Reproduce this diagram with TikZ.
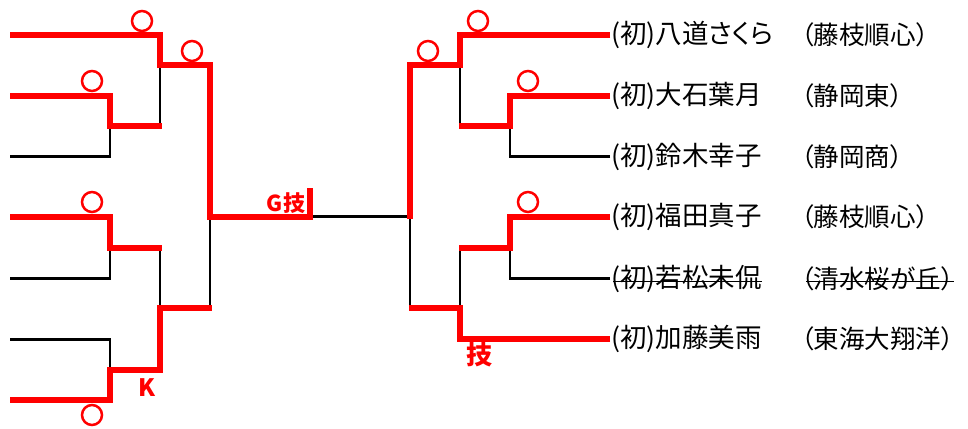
\documentclass[tikz,border=0pt]{standalone}
\usepackage{fontspec}
\newfontfamily\jp[RawFeature=+palt]{Noto Sans CJK JP}
\begin{document}
\begin{tikzpicture}[x=1pt,y=-1pt,
  win/.style={draw=red,line width=6pt,line join=miter},
  lose/.style={draw=black,line width=2.7pt},
  maru/.style={draw=red,line width=2.5pt},
  entrant/.style={anchor=west,inner sep=0pt,font=\jp\fontsize{26.5}{26.5}\selectfont},
  club/.style={entrant,font=\jp\fontsize{25.5}{25.5}\selectfont},
  resultlbl/.style={text=red,inner sep=0pt,font=\jp\bfseries\fontsize{22}{22}\selectfont},
  strike/.style={draw=black,line width=1.8pt}]
\useasboundingbox (0,0) rectangle (968,428);
% left side losers
\draw[lose] (160,65) -- (160,126);
\draw[lose] (10,156.5) -- (110,156.5) -- (110,126);
\draw[lose] (10,278.5) -- (110,278.5) -- (110,248);
\draw[lose] (160,248) -- (160,308);
\draw[lose] (10,339.5) -- (110,339.5) -- (110,370);
\draw[lose] (210,216.5) -- (210,308);
% final
\coordinate (fl) at (313,216.5);
\coordinate (fr) at (410,216.5);
\draw[lose] (fl) -- (fr);
% left winners
\draw[win] (10,35) -- (160,35) -- (160,65) -- (210,65) -- (210,216.5) -- (310,216.5) -- (310,188);
\draw[win] (10,96) -- (110,96) -- (110,126) -- (161.5,126);
\draw[win] (10,216.5) -- (110,216.5) -- (110,248) -- (161.5,248);
\draw[win] (10,400) -- (110,400) -- (110,370) -- (160,370) -- (160,308) -- (211.5,308);
% right side losers
\draw[lose] (460,65) -- (460,126);
\draw[lose] (610,156.5) -- (510,156.5) -- (510,126);
\draw[lose] (610,278.5) -- (510,278.5) -- (510,248);
\draw[lose] (460,248) -- (460,308);
\draw[lose] (410,216.5) -- (410,308);
% right winners
\draw[win] (610,35) -- (460,35) -- (460,65) -- (410,65) -- (410,219);
\draw[win] (610,96) -- (510,96) -- (510,126) -- (458.5,126);
\draw[win] (610,216.5) -- (510,216.5) -- (510,248) -- (458.5,248);
\draw[win] (610,339) -- (460,339) -- (460,308) -- (408.5,308);
% circles
\foreach \cx/\cy in {142/21,192/51,92/81,92/202,92/415,478/21,428/51,528/81,528/202}
  \draw[maru] (\cx,\cy) circle[radius=10];
% result labels
\node[resultlbl] (g) at (286,203) {G技};
\node[resultlbl,font=\jp\bfseries\fontsize{24}{24}\selectfont] (k) at (147,388) {K};
\node[resultlbl,font=\jp\bfseries\fontsize{26}{26}\selectfont] (w) at (479,355) {技};
% names
\node[entrant] (n1) at (611,35) {(初)八道さくら};
\node[entrant] (n2) at (611,96) {(初)大石葉月};
\node[entrant] (n3) at (611,156.5) {(初)鈴木幸子};
\node[entrant] (n4) at (611,216.5) {(初)福田真子};
\node[entrant] (n5) at (611,278.5) {(初)若松未侃};
\node[entrant] (n6) at (611,339) {(初)加藤美雨};
\node[club] (s1) at (801,35) {（藤枝順心）};
\node[club] (s2) at (801,96) {（静岡東）};
\node[club] (s3) at (801,156.5) {（静岡商）};
\node[club] (s4) at (801,216.5) {（藤枝順心）};
\node[club] (s5) at (801,278.5) {（清水桜が丘）};
\node[club] (s6) at (801,339) {（東海大翔洋）};
\draw[strike] ([shift={(2pt,-3pt)}]n5.west) -- ([yshift=-3pt]n5.east);
\draw[strike] ([shift={(5pt,-3pt)}]s5.west) -- ([yshift=-3pt]s5.east);
\end{tikzpicture}
\end{document}
